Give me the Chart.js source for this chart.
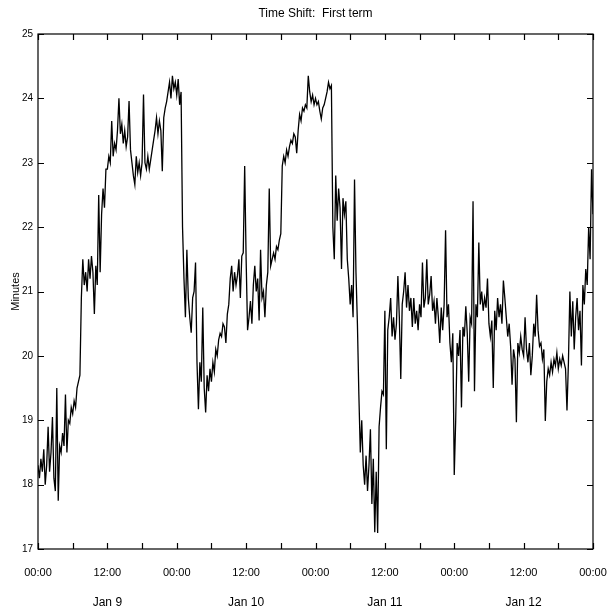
<!DOCTYPE html>
<html>
<head>
<meta charset="utf-8">
<script src="https://cdn.jsdelivr.net/npm/chart.js@4/dist/chart.umd.min.js"></script>
<style>
  body { margin: 0; background: #fff; }
  #wrap { width: 609px; height: 609px; }
</style>
</head>
<body>
<div id="wrap"><canvas id="shiftChart" width="609" height="609"></canvas></div>
<script>
// hours after Jan 9 00:00, one reading every 15 minutes
const stepHours = 0.25;
const minutes = [
  18.3, 18.1, 18.4, 18.2, 18.55, 18.0, 18.3, 18.9, 18.2, 18.5, 19.05, 18.1, 17.9, 19.5, 17.75, 18.6, 18.5, 18.8, 18.6, 19.4, 18.5, 19.0, 18.95, 19.2,
  19.1, 19.3, 19.2, 19.5, 19.6, 19.7, 20.9, 21.5, 21.1, 21.3, 21.0, 21.5, 21.2, 21.55, 21.3, 20.65, 21.4, 21.1, 22.5, 21.3, 22.2, 22.6, 22.3, 22.9,
  22.9, 23.1, 23.0, 23.65, 23.1, 23.3, 23.2, 23.5, 24.0, 23.45, 23.6, 23.3, 23.5, 23.25, 23.4, 23.96, 23.2, 23.0, 22.8, 22.66, 23.1, 22.85, 23.0, 22.8,
  23.0, 24.06, 23.0, 22.9, 23.1, 22.9, 23.05, 23.2, 23.35, 23.5, 23.7, 23.45, 23.65, 23.5, 22.87, 23.7, 23.85, 23.95, 24.1, 24.25, 24.0, 24.35, 24.15, 24.25,
  24.05, 24.3, 23.9, 24.1, 22.0, 21.2, 20.6, 21.65, 20.9, 20.6, 20.36, 20.9, 21.0, 21.45, 19.9, 19.17, 19.9, 19.6, 20.75, 19.5, 19.12, 19.7, 19.45, 19.8,
  19.6, 19.9, 19.75, 20.1, 20.0, 20.25, 20.35, 20.3, 20.5, 20.45, 20.2, 20.65, 20.8, 21.2, 21.4, 21.0, 21.3, 21.1, 21.25, 21.5, 20.9, 21.55, 21.6, 22.95,
  21.5, 20.4, 20.6, 20.85, 20.5, 21.1, 21.4, 21.0, 21.2, 20.55, 21.65, 20.9, 21.0, 20.6, 21.1, 21.3, 22.6, 21.4, 21.5, 21.6, 21.5, 21.7, 21.65, 21.8,
  21.9, 22.95, 23.1, 23.0, 23.2, 23.1, 23.25, 23.35, 23.3, 23.45, 23.4, 23.15, 23.5, 23.75, 23.65, 23.85, 23.8, 23.9, 23.85, 24.35, 24.1, 23.95, 24.05, 23.9,
  24.0, 23.9, 23.95, 23.8, 23.68, 23.85, 23.9, 24.0, 24.1, 24.25, 24.15, 24.2, 22.0, 21.5, 22.8, 22.1, 22.6, 22.3, 21.35, 22.45, 22.2, 22.4, 21.5, 21.2,
  20.8, 21.1, 20.6, 22.74, 21.3, 20.5, 19.4, 18.5, 19.0, 18.3, 18.0, 18.45, 17.9, 18.3, 18.86, 17.7, 18.4, 17.26, 18.2, 17.25, 18.9, 19.2, 19.45, 19.4,
  20.7, 18.55, 20.4, 20.6, 20.9, 20.3, 20.6, 20.25, 20.5, 21.24, 20.6, 19.64, 20.8, 21.0, 21.3, 20.75, 21.1, 20.7, 20.9, 20.45, 20.9, 20.5, 20.7, 20.4,
  20.8, 20.6, 21.45, 20.75, 20.9, 21.5, 20.8, 20.95, 21.24, 20.7, 20.85, 20.5, 20.9, 20.6, 20.2, 20.75, 20.4, 20.8, 21.95, 20.6, 20.8, 20.2, 19.9, 20.35,
  18.15, 19.0, 20.2, 20.0, 20.4, 19.2, 20.45, 20.3, 20.77, 20.35, 19.6, 20.6, 20.5, 22.4, 19.45, 20.8, 20.6, 21.76, 20.8, 21.0, 20.7, 20.9, 20.75, 21.2,
  20.5, 20.3, 20.55, 19.5, 20.7, 20.4, 20.9, 20.6, 20.8, 20.5, 21.17, 20.9, 20.6, 20.3, 20.5, 20.15, 19.55, 20.1, 19.95, 18.97, 20.2, 20.05, 20.3, 20.1,
  20.0, 20.6, 20.1, 19.9, 20.2, 19.7, 20.0, 20.5, 20.3, 20.95, 20.4, 20.15, 20.2, 19.95, 20.1, 18.99, 19.6, 19.8, 19.7, 19.9, 19.75, 19.95, 19.85, 20.05,
  19.8, 19.95, 19.85, 20.0, 19.9, 19.8, 19.15, 19.9, 21.0, 20.3, 20.85, 20.1, 20.6, 20.9, 20.4, 20.7, 19.85, 21.1, 20.8, 21.35, 21.1, 22.0, 21.5, 22.9,
  22.2
];

const timeTicks = [0, 12, 24, 36, 48, 60, 72, 84, 96];
const timeLabels = ['00:00', '12:00', '00:00', '12:00', '00:00', '12:00', '00:00', '12:00', '00:00'];
const dayTicks = [12, 36, 60, 84];
const dayLabels = ['Jan 9', 'Jan 10', 'Jan 11', 'Jan 12'];
const minorTicks = [0, 6, 12, 18, 24, 30, 36, 42, 48, 54, 60, 66, 72, 78, 84, 90, 96];
const yTicks = [17, 18, 19, 20, 21, 22, 23, 24, 25];

const points = minutes.map((v, i) => ({ x: i * stepHours, y: v }));

// frame with inward tick marks on all four sides
const frameTicks = {
  id: 'frameTicks',
  afterDraw(chart) {
    const ctx = chart.ctx;
    const a = chart.chartArea;
    const xs = chart.scales.x;
    const ys = chart.scales.y;
    const len = 6;
    ctx.save();
    ctx.strokeStyle = '#000';
    ctx.lineWidth = 1.2;
    ctx.strokeRect(a.left, a.top, a.right - a.left, a.bottom - a.top);
    ctx.beginPath();
    minorTicks.forEach(t => {
      const px = Math.round(xs.getPixelForValue(t)) + 0.5;
      ctx.moveTo(px, a.bottom); ctx.lineTo(px, a.bottom - len);
      ctx.moveTo(px, a.top); ctx.lineTo(px, a.top + len);
    });
    yTicks.forEach(t => {
      const py = Math.round(ys.getPixelForValue(t)) + 0.5;
      ctx.moveTo(a.left, py); ctx.lineTo(a.left + len, py);
      ctx.moveTo(a.right, py); ctx.lineTo(a.right - len, py);
    });
    ctx.stroke();
    ctx.restore();
  }
};

// keep edge labels from pushing the plot area in
const noEdgePad = s => { s.paddingLeft = 0; s.paddingRight = 0; s.height = 30; };

Chart.defaults.font.family = "'Liberation Sans', Arial, sans-serif";
Chart.defaults.color = '#000';

new Chart(document.getElementById('shiftChart'), {
  type: 'line',
  data: {
    datasets: [{
      data: points,
      borderColor: '#000',
      borderWidth: 1.3,
      pointRadius: 0,
      tension: 0,
      fill: false
    }]
  },
  options: {
    responsive: false,
    animation: false,
    layout: { padding: { top: 0, right: 16, bottom: 0, left: 0 } },
    plugins: {
      legend: { display: false },
      tooltip: { enabled: false },
      title: {
        display: true,
        text: 'Time Shift:  First term',
        fullSize: false,
        font: { size: 12, weight: 'normal' },
        padding: { top: 6, bottom: 13.6 }
      }
    },
    scales: {
      x: {
        type: 'linear',
        min: 0,
        max: 96,
        grid: { display: false },
        border: { display: false },
        afterBuildTicks: s => { s.ticks = timeTicks.map(v => ({ value: v })); },
        afterFit: noEdgePad,
        ticks: {
          autoSkip: false,
          maxRotation: 0,
          padding: 9,
          font: { size: 11 },
          callback: (v, i) => timeLabels[i]
        }
      },
      x2: {
        type: 'linear',
        position: 'bottom',
        min: 0,
        max: 96,
        grid: { display: false },
        border: { display: false },
        afterBuildTicks: s => { s.ticks = dayTicks.map(v => ({ value: v })); },
        afterFit: noEdgePad,
        ticks: {
          autoSkip: false,
          maxRotation: 0,
          padding: 8,
          font: { size: 12 },
          callback: (v, i) => dayLabels[i]
        }
      },
      y: {
        min: 17,
        max: 25,
        grid: { display: false, drawTicks: false },
        border: { display: false },
        afterBuildTicks: s => { s.ticks = yTicks.map(v => ({ value: v })); },
        afterFit: s => { s.width = 38; s.paddingTop = 0; s.paddingBottom = 0; },
        ticks: { padding: 5, font: { size: 10 } },
        title: {
          display: true,
          text: 'Minutes',
          font: { size: 11 },
          padding: { top: 9, bottom: 0 }
        }
      }
    }
  },
  plugins: [frameTicks]
});
</script>
</body>
</html>
